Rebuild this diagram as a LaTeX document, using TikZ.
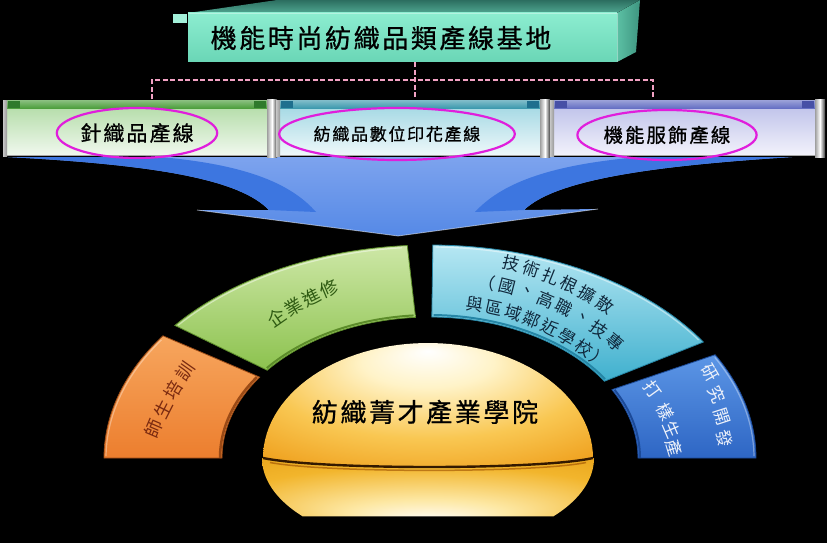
\documentclass[tikz,border=0pt]{standalone}
\usepackage{fontspec}
\newfontfamily\cjk{Noto Sans CJK TC}[LetterSpace=10, FakeBold=0.8]
\newfontfamily\cjkarc{Noto Sans CJK TC}
\usetikzlibrary{shapes.geometric}

% palette
\definecolor{frontA}{HTML}{8CEDD0}
\definecolor{frontB}{HTML}{6AD6B6}
\definecolor{topA}{HTML}{2C6E60}
\definecolor{topB}{HTML}{4FA690}
\definecolor{sideA}{HTML}{5CC0A4}
\definecolor{sideB}{HTML}{3E9580}
\definecolor{pinkdash}{HTML}{F2A2C4}
\definecolor{mag}{HTML}{E01EDC}
\definecolor{arrowA}{HTML}{7DA3EE}
\definecolor{arrowB}{HTML}{5589E6}
\definecolor{arrowArm}{HTML}{3D76E0}
\definecolor{bandG}{HTML}{4E9F3E}
\definecolor{bandGd}{HTML}{2F7A2C}
\definecolor{bodyGa}{HTML}{B7DEAC}
\definecolor{bodyGb}{HTML}{F0F8EE}
\definecolor{bandT}{HTML}{3E9AAE}
\definecolor{bandTd}{HTML}{1E6F8E}
\definecolor{bodyTa}{HTML}{A8DAE5}
\definecolor{bodyTb}{HTML}{EEF8FA}
\definecolor{bandP}{HTML}{6670C4}
\definecolor{bandPd}{HTML}{4750A6}
\definecolor{bodyPa}{HTML}{C2C5EB}
\definecolor{bodyPb}{HTML}{F2F2FB}
\definecolor{orA}{HTML}{F7A65E}
\definecolor{orB}{HTML}{EC7E2E}
\definecolor{orEdge}{HTML}{9A4A16}
\definecolor{orTxt}{HTML}{7A2A10}
\definecolor{grA}{HTML}{CDE7A6}
\definecolor{grB}{HTML}{8CC24E}
\definecolor{grEdge}{HTML}{5C8C2A}
\definecolor{grTxt}{HTML}{2E5A12}
\definecolor{tlA}{HTML}{B6E7F3}
\definecolor{tlB}{HTML}{3FB0CE}
\definecolor{tlEdge}{HTML}{2686A6}
\definecolor{tlTxt}{HTML}{10283C}
\definecolor{blA}{HTML}{5C96E6}
\definecolor{blB}{HTML}{2E66C4}
\definecolor{blEdge}{HTML}{1C4A98}
\definecolor{blTxt}{HTML}{EEF2FA}
\definecolor{domeA}{HTML}{FFF3C8}
\definecolor{domeB}{HTML}{F9C752}
\definecolor{domeC}{HTML}{EE9C18}
\definecolor{domeD}{HTML}{DC7E06}
\definecolor{lowA}{HTML}{FDE8A4}
\definecolor{lowB}{HTML}{F2B52C}
\definecolor{lowC}{HTML}{E29A10}

\pgfdeclareradialshading{domeup}{\pgfpoint{0bp}{22bp}}{color(0bp)=(white); color(10bp)=(domeA); color(24bp)=(domeB); color(38bp)=(domeC); color(50bp)=(domeD)}
\pgfdeclareradialshading{domelow}{\pgfpoint{0bp}{-30bp}}{color(0bp)=(white); color(12bp)=(lowA); color(30bp)=(lowB); color(50bp)=(lowC)}

% one production-line panel: x0, x1, band, band corners, body top, body bottom
\newcommand\prodbox[6]{%
  \fill[top color=#5, bottom color=#6] (#1,108) rectangle (#2-10,155);
  \fill[top color=#3!65!white, bottom color=#3] (#1,100) rectangle (#2-10,108);
  \fill[#4] (#1+1,101) rectangle (#1+13,108);
  \fill[#4] (#2-23,101) rectangle (#2-11,108);
  \fill[left color=gray!75, right color=gray!50!black, middle color=white] (#2-10,99) rectangle (#2,157);
  \fill[left color=gray!45, right color=gray!80] (#1-4,100) rectangle (#1,156);
  \draw[gray!70, line width=1] (#1,155.5) -- (#2-10,155.5);
}
% ring sector between the two ellipses, parametric angles #1..#2
\def\ringseg#1#2{plot[domain=#1:#2,samples=40] ({430+326*cos(\x)},{458-213*sin(\x)}) -- plot[domain=#2:#1,samples=40] ({430+208*cos(\x)},{458-141*sin(\x)}) -- cycle}
\def\innerarc#1#2{plot[domain=#1:#2,samples=40] ({430+210*cos(\x)},{458-143*sin(\x)})}
\def\outerarc#1#2{plot[domain=#1:#2,samples=40] ({430+324*cos(\x)},{458-211*sin(\x)})}

\begin{document}
\begin{tikzpicture}[x=1pt,y=-1pt,
  titletext/.style={font=\cjk\fontsize{26}{30}\selectfont, inner sep=0},
  linetext/.style={font=\cjk\fontsize{#1}{#1}\selectfont, ellipse, draw=mag, line width=2.2pt, inner sep=0},
  anchorbox/.style={inner sep=0, minimum width=#1},
  pinkline/.style={draw=pinkdash, line width=1.6pt, dash pattern=on 5pt off 2.5pt},
  arcT/.style={font=\cjkarc\fontsize{#1}{#1}\selectfont, inner sep=0},
  dometext/.style={font=\cjk\fontsize{26}{30}\selectfont, inner sep=0}]
\useasboundingbox (0,0) rectangle (827,543);
\fill[black] (0,0) rectangle (827,543);

% ---- converging blue arrow ----
\fill[top color=arrowA, bottom color=arrowB]
  (8,157) .. controls (160,165) and (240,180) .. (269,210) -- (197,210) -- (398,236)
  -- (598,209) -- (524,210) .. controls (555,180) and (650,166) .. (792,157) -- cycle;
\fill[arrowArm]
  (8,157) .. controls (160,165) and (240,180) .. (269,210) -- (316,212)
  .. controls (292,185) and (250,165) .. (160,157) -- cycle;
\fill[arrowArm]
  (792,157) .. controls (650,166) and (555,180) .. (524,210) -- (475,212)
  .. controls (500,185) and (545,165) .. (640,157) -- cycle;
\draw[white, opacity=0.5, line width=0.8] (197,210) -- (398,236) -- (598,209);

% ---- three production-line panels ----
\prodbox{7}{277}{bandG}{bandGd}{bodyGa}{bodyGb}
\prodbox{280}{550}{bandT}{bandTd}{bodyTa}{bodyTb}
\prodbox{554}{825}{bandP}{bandPd}{bodyPa}{bodyPb}
\node[anchorbox=274pt, minimum height=57pt] (knit) at (140,128) {};
\node[anchorbox=274pt, minimum height=57pt] (print) at (413,128) {};
\node[anchorbox=275pt, minimum height=57pt] (func) at (688,128) {};

\node[linetext=21, minimum width=144pt, minimum height=50pt] (knitT) at (137,133) {針織品產線};
\node[linetext=17, minimum width=198pt, minimum height=52pt] (printT) at (397,134) {紡織品數位印花產線};
\node[linetext=19.5, minimum width=152pt, minimum height=50pt] (funcT) at (667,135) {機能服飾產線};

% ---- title block ----
\fill[top color=topA, bottom color=topB] (188,13) -- (277,0) -- (640,0) -- (617,13) -- cycle;
\fill[left color=sideA, right color=sideB] (617,13) -- (640,0) -- (636,52) -- (617,62) -- cycle;
\fill[top color=frontA, bottom color=frontB] (188,13) rectangle (617,62);
\draw[white, opacity=0.35, line width=0.8] (188,13) -- (617,13) -- (617,62);
\fill[frontA!80!white] (173,14) rectangle (187,23);
\node[anchorbox=429pt, minimum height=49pt] (titlebox) at (402.5,37.5) {};
\node[titletext] (title) at (381,38) {機能時尚紡織品類產線基地};

% ---- dashed tree ----
\coordinate (busL) at (152,80);
\coordinate (busC) at (415,80);
\coordinate (busR) at (653,80);
\draw[pinkline] (busC |- titlebox.south) -- (busC |- print.north);
\draw[pinkline] (busL |- knit.north) -- (busL) -- (busR) -- (busR |- func.north);

% ---- ring of four sectors ----
\path[top color=orA, bottom color=orB, draw=orEdge, line width=0.8] \ringseg{145}{180};
\path[top color=grA, bottom color=grB, draw=grEdge, line width=0.8] \ringseg{94}{141.5};
\path[top color=tlA, bottom color=tlB, draw=tlEdge, line width=0.8] \ringseg{33}{89.5};
\path[top color=blA, bottom color=blB, draw=blEdge, line width=0.8] \ringseg{0}{29};
\draw[orEdge, line width=2.5] \innerarc{145.5}{180};
\draw[grEdge, line width=2] \innerarc{94.5}{141};
\draw[tlEdge, line width=2] \innerarc{33.5}{89};
\draw[blEdge, line width=2] \innerarc{0}{28.5};
\draw[white, opacity=0.35, line width=1.2] \outerarc{146}{179.5};
\draw[white, opacity=0.45, line width=1.2] \outerarc{95}{141};
\draw[white, opacity=0.45, line width=1.2] \outerarc{34}{89};
\draw[white, opacity=0.35, line width=1.2] \outerarc{0.5}{28.5};

% sector labels
\foreach \c [count=\i from 0] in {師,生,培,訓}
  \node[arcT=18, text=orTxt, rotate={157-4*\i-90}] (ot\i) at ({440+311*cos(157-4*\i)},{550-311*sin(157-4*\i)}) {\c};
\foreach \c [count=\i from 0] in {企,業,進,修}
  \node[arcT=18, text=grTxt, rotate={125-4*\i-90}] (gt\i) at ({440+284*cos(125-4*\i)},{550-284*sin(125-4*\i)}) {\c};
\foreach \c [count=\i from 0] in {技,術,扎,根,擴,散}
  \node[arcT=17, text=tlTxt, rotate={76-4*\i-90}] (ta\i) at ({440+295*cos(76-4*\i)},{550-295*sin(76-4*\i)}) {\c};
\foreach \c [count=\i from 0] in {（,國,、,高,職,、,技,專}
  \node[arcT=17, text=tlTxt, rotate={80-4.3*\i-90}] (tb\i) at ({440+272*cos(80-4.3*\i)},{550-272*sin(80-4.3*\i)}) {\c};
\foreach \c [count=\i from 0] in {與,區,域,鄰,近,學,校,）}
  \node[arcT=17, text=tlTxt, rotate={82-4.57*\i-90}] (tc\i) at ({440+248*cos(82-4.57*\i)},{550-248*sin(82-4.57*\i)}) {\c};
\foreach \c/\px/\py/\rt [count=\i] in {研/710/373/-60, 究/717/395/-66, 開/722/417/-72, 發/725/438/-78}
  \node[arcT=17, text=blTxt, rotate=\rt] (ba\i) at (\px,\py) {\c};
\foreach \c/\px/\py/\rt [count=\i] in {打/653/390/-54, 樣/665/412/-61, 生/672/430/-67, 產/674/448/-73}
  \node[arcT=17, text=blTxt, rotate=\rt] (bb\i) at (\px,\py) {\c};

% ---- central dome ----
\path[shading=domelow] plot[domain=180:220.9,samples=30] ({428+166*cos(\x)},{458-89*sin(\x)})
  -- plot[domain=319.1:360,samples=30] ({428+166*cos(\x)},{458-89*sin(\x)}) -- cycle;
\path[shading=domeup] plot[domain=0:180,samples=60] ({428+165*cos(\x)},{458-115*sin(\x)})
  .. controls (320,470) and (540,470) .. (593,458) -- cycle;
\draw[line width=2.4, black!80!orange] (263,458) .. controls (320,470) and (540,470) .. (593,458);
\draw[line width=1.5, orange!60!black, opacity=0.6] (270,462.5) .. controls (325,473) and (535,473) .. (586,462.5);
\node[dometext] (school) at (425,412) {紡織菁才產業學院};
\end{tikzpicture}
\end{document}
